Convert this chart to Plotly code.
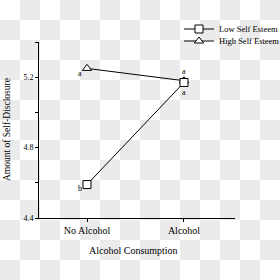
import plotly.graph_objects as go

categories = ["No Alcohol", "Alcohol"]
low_self_esteem = [4.59, 5.17]
high_self_esteem = [5.25, 5.18]
letters_low = ["b", "a"]
letters_high = ["a", "a"]

x_pos = [0, 1]
font_family = "Liberation Serif, Times New Roman, serif"

fig = go.Figure()

fig.add_trace(go.Scatter(
    x=x_pos, y=high_self_esteem, name="High Self Esteem", mode="lines+markers",
    line=dict(color="black", width=1),
    marker=dict(symbol="triangle-up", size=8, color="white", line=dict(color="black", width=1)),
    legend="legend2",
))
fig.add_trace(go.Scatter(
    x=x_pos, y=low_self_esteem, name="Low Self Esteem", mode="lines+markers",
    line=dict(color="black", width=1),
    marker=dict(symbol="square", size=8, color="white", line=dict(color="black", width=1)),
    legend="legend",
))

L, T, W, H = 39, 42, 196, 176
shapes = []
for r in range(14):
    for c in range(14):
        if (r + c) % 2 == 1:
            shapes.append(dict(type="rect", xref="paper", yref="paper",
                               x0=(c * 20 - L) / W, x1=((c + 1) * 20 - L) / W,
                               y0=(T + H - (r + 1) * 20) / H, y1=(T + H - r * 20) / H,
                               fillcolor="#ebebeb", line=dict(width=0), layer="below"))

annotations = []
shifts_low = [(-7, -4), (0, -10)]
shifts_high = [(-7, -5), (0, 9)]
for i, (v, t) in enumerate(zip(low_self_esteem, letters_low)):
    annotations.append(dict(x=x_pos[i], y=v, text=t, showarrow=False,
                            xshift=shifts_low[i][0], yshift=shifts_low[i][1]))
for i, (v, t) in enumerate(zip(high_self_esteem, letters_high)):
    annotations.append(dict(x=x_pos[i], y=v, text=t, showarrow=False,
                            xshift=shifts_high[i][0], yshift=shifts_high[i][1]))
for a in annotations:
    a["font"] = dict(family=font_family, size=8, color="black")

annotations.append(dict(xref="paper", yref="paper", x=(133 - L) / W, y=(T + H - 250) / H,
                        xanchor="center", yanchor="middle",
                        text="Alcohol Consumption", showarrow=False,
                        font=dict(family=font_family, size=10, color="black")))
annotations.append(dict(xref="paper", yref="paper", x=(7 - L) / W, y=0.5,
                        xanchor="center", yanchor="middle",
                        text="Amount of Self-Disclosure", showarrow=False, textangle=-90,
                        font=dict(family=font_family, size=9.5, color="black")))

leg_common = dict(xanchor="left", yanchor="middle",
                  bgcolor="rgba(0,0,0,0)", font=dict(family=font_family, size=8.5),
                  itemwidth=30)

fig.update_layout(
    width=280, height=280,
    margin=dict(l=L, r=280 - L - W, t=T, b=280 - T - H, autoexpand=False),
    paper_bgcolor="white", plot_bgcolor="rgba(0,0,0,0)",
    font=dict(family=font_family, size=10, color="black"),
    shapes=shapes, annotations=annotations,
    showlegend=True,
    legend=dict(x=(179 - L) / W, y=(T + H - 29) / H, **leg_common),
    legend2=dict(x=(179 - L) / W, y=(T + H - 41) / H, **leg_common),
    xaxis=dict(range=[-0.495, 1.526], tickvals=x_pos, ticktext=categories,
               showline=True, linecolor="black", linewidth=1, showgrid=False, zeroline=False,
               ticks="outside", ticklen=3, tickcolor="black",
               tickfont=dict(family=font_family, size=10)),
    yaxis=dict(range=[4.4, 5.4], tick0=4.4, dtick=0.4, tickformat=".1f",
               showline=True, linecolor="black", linewidth=1, showgrid=False, zeroline=False,
               ticks="outside", ticklen=3, tickcolor="black",
               minor=dict(dtick=0.2, ticks="outside", ticklen=3, tickcolor="black"),
               tickfont=dict(family=font_family, size=8)),
)

fig.write_html("out.html")
